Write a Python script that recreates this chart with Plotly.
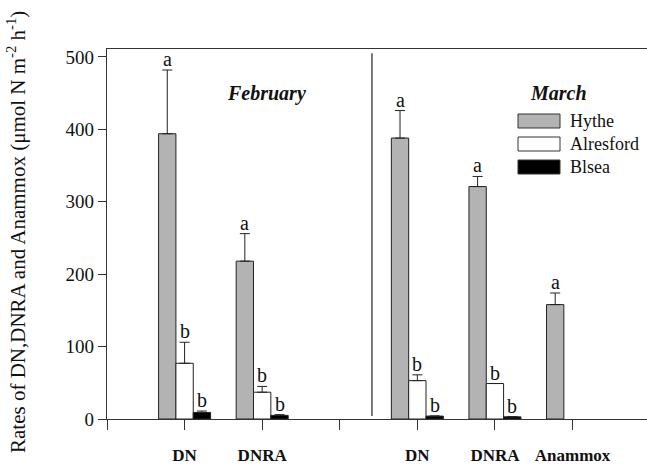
import plotly.graph_objects as go

# ---- data ----
positions = [1, 2, 4, 5, 6]          # DN, DNRA (Feb) | DN, DNRA, Anammox (Mar)
tick_text = ["DN", "DNRA", "DN", "DNRA", "Anammox"]
sites = ["Hythe", "Alresford", "Blsea"]

hythe = [394, 218, 388, 321, 158]
hythe_err = [88, 38, 38, 14, 16]
alresford = [77, 37, 53, 49, None]
alresford_err = [29, 8, 8, 0, None]
blsea = [9, 5, 4, 3, None]
blsea_err = [2, 1, 0, 0, None]

letters_hythe = ["a", "a", "a", "a", "a"]
letters_alresford = ["b", "b", "b", "b", None]
letters_blsea = ["b", "b", "b", "b", None]

months = ["February", "March"]
y_ticks = [0, 100, 200, 300, 400, 500]

# ---- style ----
FONT = "Liberation Serif, Times New Roman, serif"
colors = ["#b3b3b3", "#ffffff", "#000000"]
BARGAP = 0.33
DIVIDER_X = 3.415
X_RANGE = [0, 6.96]
Y_RANGE = [0, 511]
L, T, PW, PH = 107, 49, 540, 370


def px(x):
    return (x - L) / PW


def py(y):
    return (T + PH - y) / PH


series = [hythe, alresford, blsea]
errors = [hythe_err, alresford_err, blsea_err]
letters = [letters_hythe, letters_alresford, letters_blsea]

fig = go.Figure()
for i, name in enumerate(sites):
    fig.add_trace(go.Bar(
        x=positions, y=series[i], name=name,
        marker=dict(color=colors[i], line=dict(color="#222", width=1)),
        error_y=dict(type="data", array=errors[i], symmetric=False,
                     arrayminus=[0] * len(positions),
                     color="#222", thickness=1, width=5, visible=True),
        showlegend=False,
    ))

# letter annotations above error bars
bar_w = (1 - BARGAP) / 3
for i in range(3):
    off = (i - 1) * bar_w
    for j, p in enumerate(positions):
        lab = letters[i][j]
        if lab is None or series[i][j] is None:
            continue
        top = series[i][j] + (errors[i][j] or 0)
        fig.add_annotation(x=p + off, y=top, text=lab, showarrow=False,
                           xref="x", yref="y", xanchor="center", yanchor="bottom",
                           yshift=-2,
                           font=dict(family=FONT, size=20, color="#111"))

# divider between months
fig.add_shape(type="line", xref="x", yref="y", x0=DIVIDER_X, x1=DIVIDER_X,
              y0=4, y1=505, line=dict(color="#333", width=1.3))

# month labels
for name, cx in zip(months, [266, 558]):
    fig.add_annotation(x=px(cx), y=py(93), xref="paper", yref="paper",
                       xanchor="center", yanchor="middle",
                       text="<b><i>" + name + "</i></b>", showarrow=False,
                       font=dict(family=FONT, size=20, color="#111"))

# custom legend
for i, name in enumerate(sites):
    cy = 121 + i * 23
    fig.add_shape(type="rect", xref="paper", yref="paper",
                  x0=px(518), x1=px(560), y0=py(cy + 7), y1=py(cy - 7),
                  fillcolor=colors[i], line=dict(color="#333", width=1))
    fig.add_annotation(x=px(568), y=py(cy), xref="paper", yref="paper",
                       text=name, showarrow=False, xanchor="left", yanchor="middle",
                       font=dict(family=FONT, size=18, color="#111"))

# y-axis title
fig.add_annotation(x=px(16), y=py(232), xref="paper", yref="paper",
                   xanchor="center", yanchor="middle",
                   text="Rates of DN,DNRA and Anammox (μmol N m<sup>-2</sup> h<sup>-1</sup>)",
                   textangle=-90, showarrow=False,
                   font=dict(family=FONT, size=21, color="#111"))

fig.update_layout(
    width=647, height=467,
    margin=dict(l=L, r=0, t=T, b=467 - T - PH),
    paper_bgcolor="white", plot_bgcolor="white",
    barmode="group", bargap=BARGAP, bargroupgap=0,
    font=dict(family=FONT, color="#111"),
    xaxis=dict(range=X_RANGE, tickmode="array", tickvals=positions, ticktext=tick_text,
               ticks="outside", ticklen=10, tickcolor="#333", showline=True,
               linecolor="#333", linewidth=1.3, mirror=True, showgrid=False,
               zeroline=False, ticklabelstandoff=10, automargin=False,
               minor=dict(ticks="outside", ticklen=10, tickcolor="#333",
                          tickmode="linear", tick0=0, dtick=1),
               tickfont=dict(family=FONT, size=17, color="#111", weight="bold")),
    yaxis=dict(range=Y_RANGE, tickvals=y_ticks, ticks="outside", ticklen=8,
               tickcolor="#333", showline=True, linecolor="#333", linewidth=1.3,
               showgrid=False, zeroline=False, automargin=False,
               tickfont=dict(family=FONT, size=19, color="#111")),
)

fig.write_html("out.html", config={"displayModeBar": False},
               post_script="document.body.style.margin='0';")
